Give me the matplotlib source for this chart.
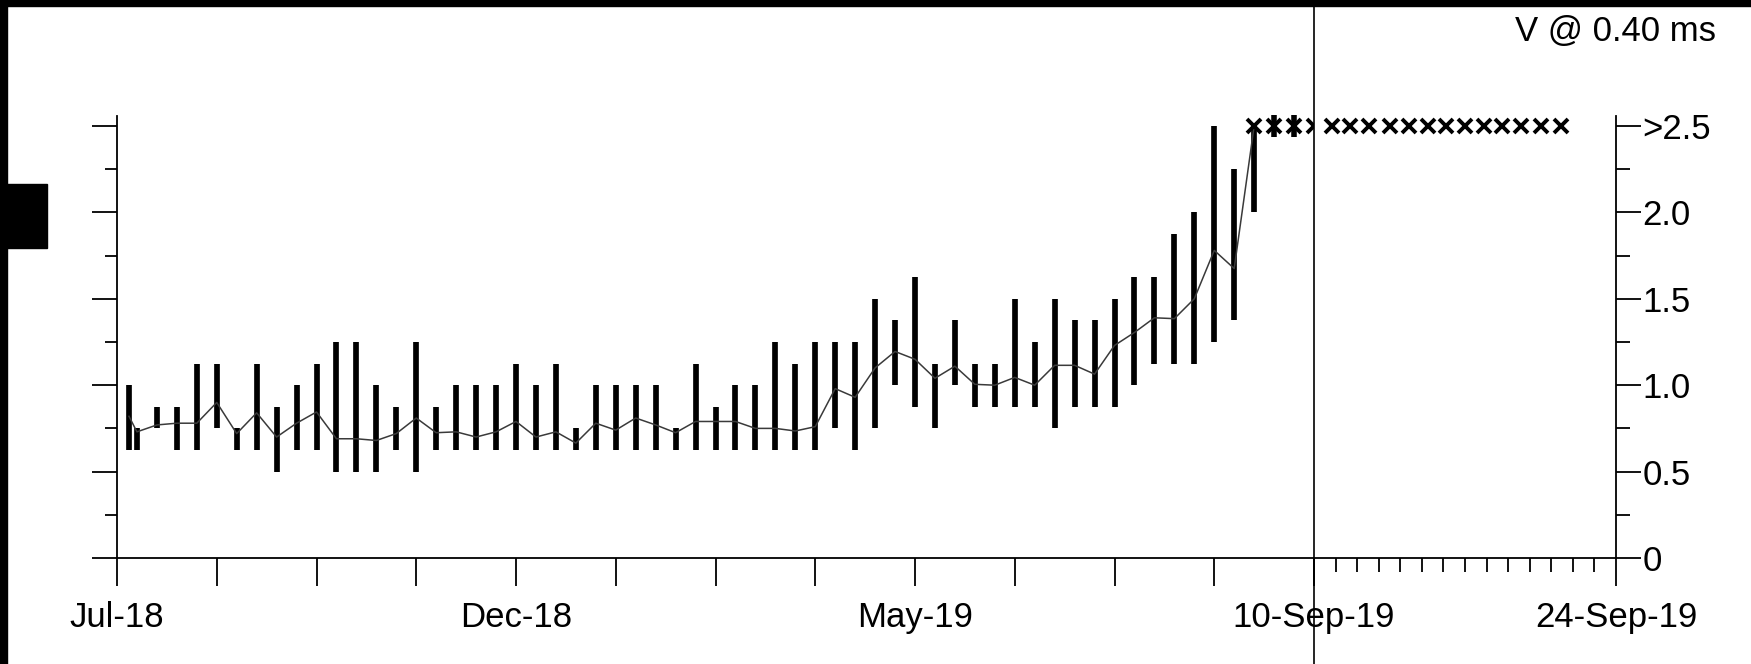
import numpy as np
import matplotlib.pyplot as plt
from matplotlib.patches import Rectangle
from matplotlib.ticker import FixedLocator, FixedFormatter, NullFormatter

plt.rcParams['font.family'] = ['Liberation Sans', 'DejaVu Sans']

# weekly readings, position in weeks from the first tick
weeks = [0.6] + list(range(1, 58))
lo = [0.625, 0.625, 0.75, 0.625, 0.625, 0.75, 0.625, 0.625, 0.5, 0.625,
      0.625, 0.5, 0.5, 0.5, 0.625, 0.5, 0.625, 0.625, 0.625, 0.625,
      0.625, 0.625, 0.625, 0.625, 0.625, 0.625, 0.625, 0.625, 0.625, 0.625,
      0.625, 0.625, 0.625, 0.625, 0.625, 0.625, 0.75, 0.625, 0.75, 1.0,
      0.875, 0.75, 1.0, 0.875, 0.875, 0.875, 0.875, 0.75, 0.875, 0.875,
      0.875, 1.0, 1.125, 1.125, 1.125, 1.25, 1.375, 2.0]
hi = [1.0, 0.75, 0.875, 0.875, 1.125, 1.125, 0.75, 1.125, 0.875, 1.0,
      1.125, 1.25, 1.25, 1.0, 0.875, 1.25, 0.875, 1.0, 1.0, 1.0,
      1.125, 1.0, 1.125, 0.75, 1.0, 1.0, 1.0, 1.0, 0.75, 1.125,
      0.875, 1.0, 1.0, 1.25, 1.125, 1.25, 1.25, 1.25, 1.5, 1.375,
      1.625, 1.125, 1.375, 1.125, 1.125, 1.5, 1.25, 1.5, 1.375, 1.375,
      1.5, 1.625, 1.625, 1.875, 2.0, 2.5, 2.25, 2.6]
mean = [0.82, 0.73, 0.77, 0.78, 0.78, 0.90, 0.72, 0.84, 0.70, 0.78,
        0.845, 0.69, 0.69, 0.68, 0.72, 0.81, 0.725, 0.73, 0.70, 0.73,
        0.79, 0.70, 0.73, 0.665, 0.78, 0.74, 0.81, 0.77, 0.725, 0.79,
        0.79, 0.79, 0.75, 0.75, 0.735, 0.76, 0.98, 0.93, 1.10, 1.195,
        1.15, 1.04, 1.11, 1.005, 1.0, 1.045, 1.0, 1.115, 1.115, 1.064,
        1.23, 1.305, 1.39, 1.385, 1.5, 1.78, 1.675, 2.6]

# readings above the scale top
over_weeks = [57, 58, 59, 60]
over_bar_weeks = [58, 59]

# daily forecast after 10-Sep-19 (days), all above the scale
fc_days = [0.83, 1.67, 2.55, 3.52, 4.4, 5.29, 6.12, 6.99, 7.88, 8.71, 9.6, 10.53, 11.45]

hist_ticks = list(range(0, 61, 5))
hist_labels = {0: 'Jul-18', 20: 'Dec-18', 40: 'May-19'}
fc_labels = ['10-Sep-19', '24-Sep-19']
y_major = [0, 0.5, 1.0, 1.5, 2.0, 2.5]
y_labels = ['0', '0.5', '1.0', '1.5', '2.0', '>2.5']
y_minor = [0.25, 0.75, 1.25, 1.75, 2.25]
top = 2.5
ymax = 2.56

W, H = 1751, 664
fig = plt.figure(figsize=(W / 100, H / 100), dpi=100)

def box(x0, y0, x1, y1):
    # pixel box (from top-left) -> figure fraction rect
    return [x0 / W, 1 - y1 / H, (x1 - x0) / W, (y1 - y0) / H]

ax = fig.add_axes(box(117, 115.6, 1314, 558))
axf = fig.add_axes(box(1314, 115.6, 1616, 558), sharey=ax)

lw_axis = 1.3
fs = 25
mk = dict(linestyle='none', marker='x', markersize=10.5, markeredgewidth=2.8,
          color='black', clip_on=False)

# history panel
ax.vlines(weeks, lo, np.minimum(hi, top), color='black', linewidth=4.1)
ax.plot(weeks, np.minimum(mean, top), color='#3a3a3a', linewidth=1.1)
ax.plot(over_weeks, [top] * len(over_weeks), **mk)
ax.plot(over_bar_weeks, [top] * len(over_bar_weeks), linestyle='none', marker='|',
        markersize=16, markeredgewidth=4.0, color='black', clip_on=False)

ax.set_xlim(0, 60)
ax.set_ylim(0, ymax)
for s in ['top', 'right']:
    ax.spines[s].set_visible(False)
for s in ['left', 'bottom']:
    ax.spines[s].set_linewidth(lw_axis)
ax.xaxis.set_major_locator(FixedLocator(hist_ticks))
ax.xaxis.set_major_formatter(FixedFormatter([hist_labels.get(t, '') for t in hist_ticks]))
ax.yaxis.set_major_locator(FixedLocator(y_major))
ax.yaxis.set_minor_locator(FixedLocator(y_minor))
ax.tick_params(axis='x', which='major', direction='out', length=20, width=lw_axis,
               labelsize=fs, pad=11)
ax.tick_params(axis='y', which='major', direction='out', length=18, width=lw_axis,
               labelleft=False)
ax.tick_params(axis='y', which='minor', direction='out', length=9, width=lw_axis)

# forecast panel
axf.plot(fc_days, [top] * len(fc_days), **mk)
axf.axvline(0, ymin=-0.25, ymax=1.27, color='black', linewidth=1.2, clip_on=False)
axf.set_xlim(0, 14)
for s in ['top', 'left']:
    axf.spines[s].set_visible(False)
for s in ['right', 'bottom']:
    axf.spines[s].set_linewidth(lw_axis)
axf.xaxis.set_major_locator(FixedLocator([0, 14]))
axf.xaxis.set_major_formatter(FixedFormatter(fc_labels))
axf.xaxis.set_minor_locator(FixedLocator(range(1, 14)))
axf.xaxis.set_minor_formatter(NullFormatter())
axf.tick_params(axis='x', which='major', direction='out', length=20, width=lw_axis,
                labelsize=fs, pad=11)
axf.tick_params(axis='x', which='minor', direction='out', length=10, width=lw_axis)
axf.yaxis.tick_right()
axf.yaxis.set_major_formatter(FixedFormatter(y_labels))
axf.tick_params(axis='y', which='major', direction='out', length=18, width=lw_axis,
                labelsize=fs, pad=1, left=False, right=True, labelright=True)
axf.tick_params(axis='y', which='minor', direction='out', length=10, width=lw_axis,
                left=False, right=True)

fig.text(1716 / W, 1 - 31 / H, 'V @ 0.40 ms', ha='right', va='center', fontsize=fs)

# black frame pieces
for r in [box(0, 0, W, 6), box(0, 0, 7, H), box(0, 184, 47, 248)]:
    fig.add_artist(Rectangle((r[0], r[1]), r[2], r[3], transform=fig.transFigure,
                             color='black', zorder=10))

fig.savefig('out.png', dpi=100, facecolor='white')
